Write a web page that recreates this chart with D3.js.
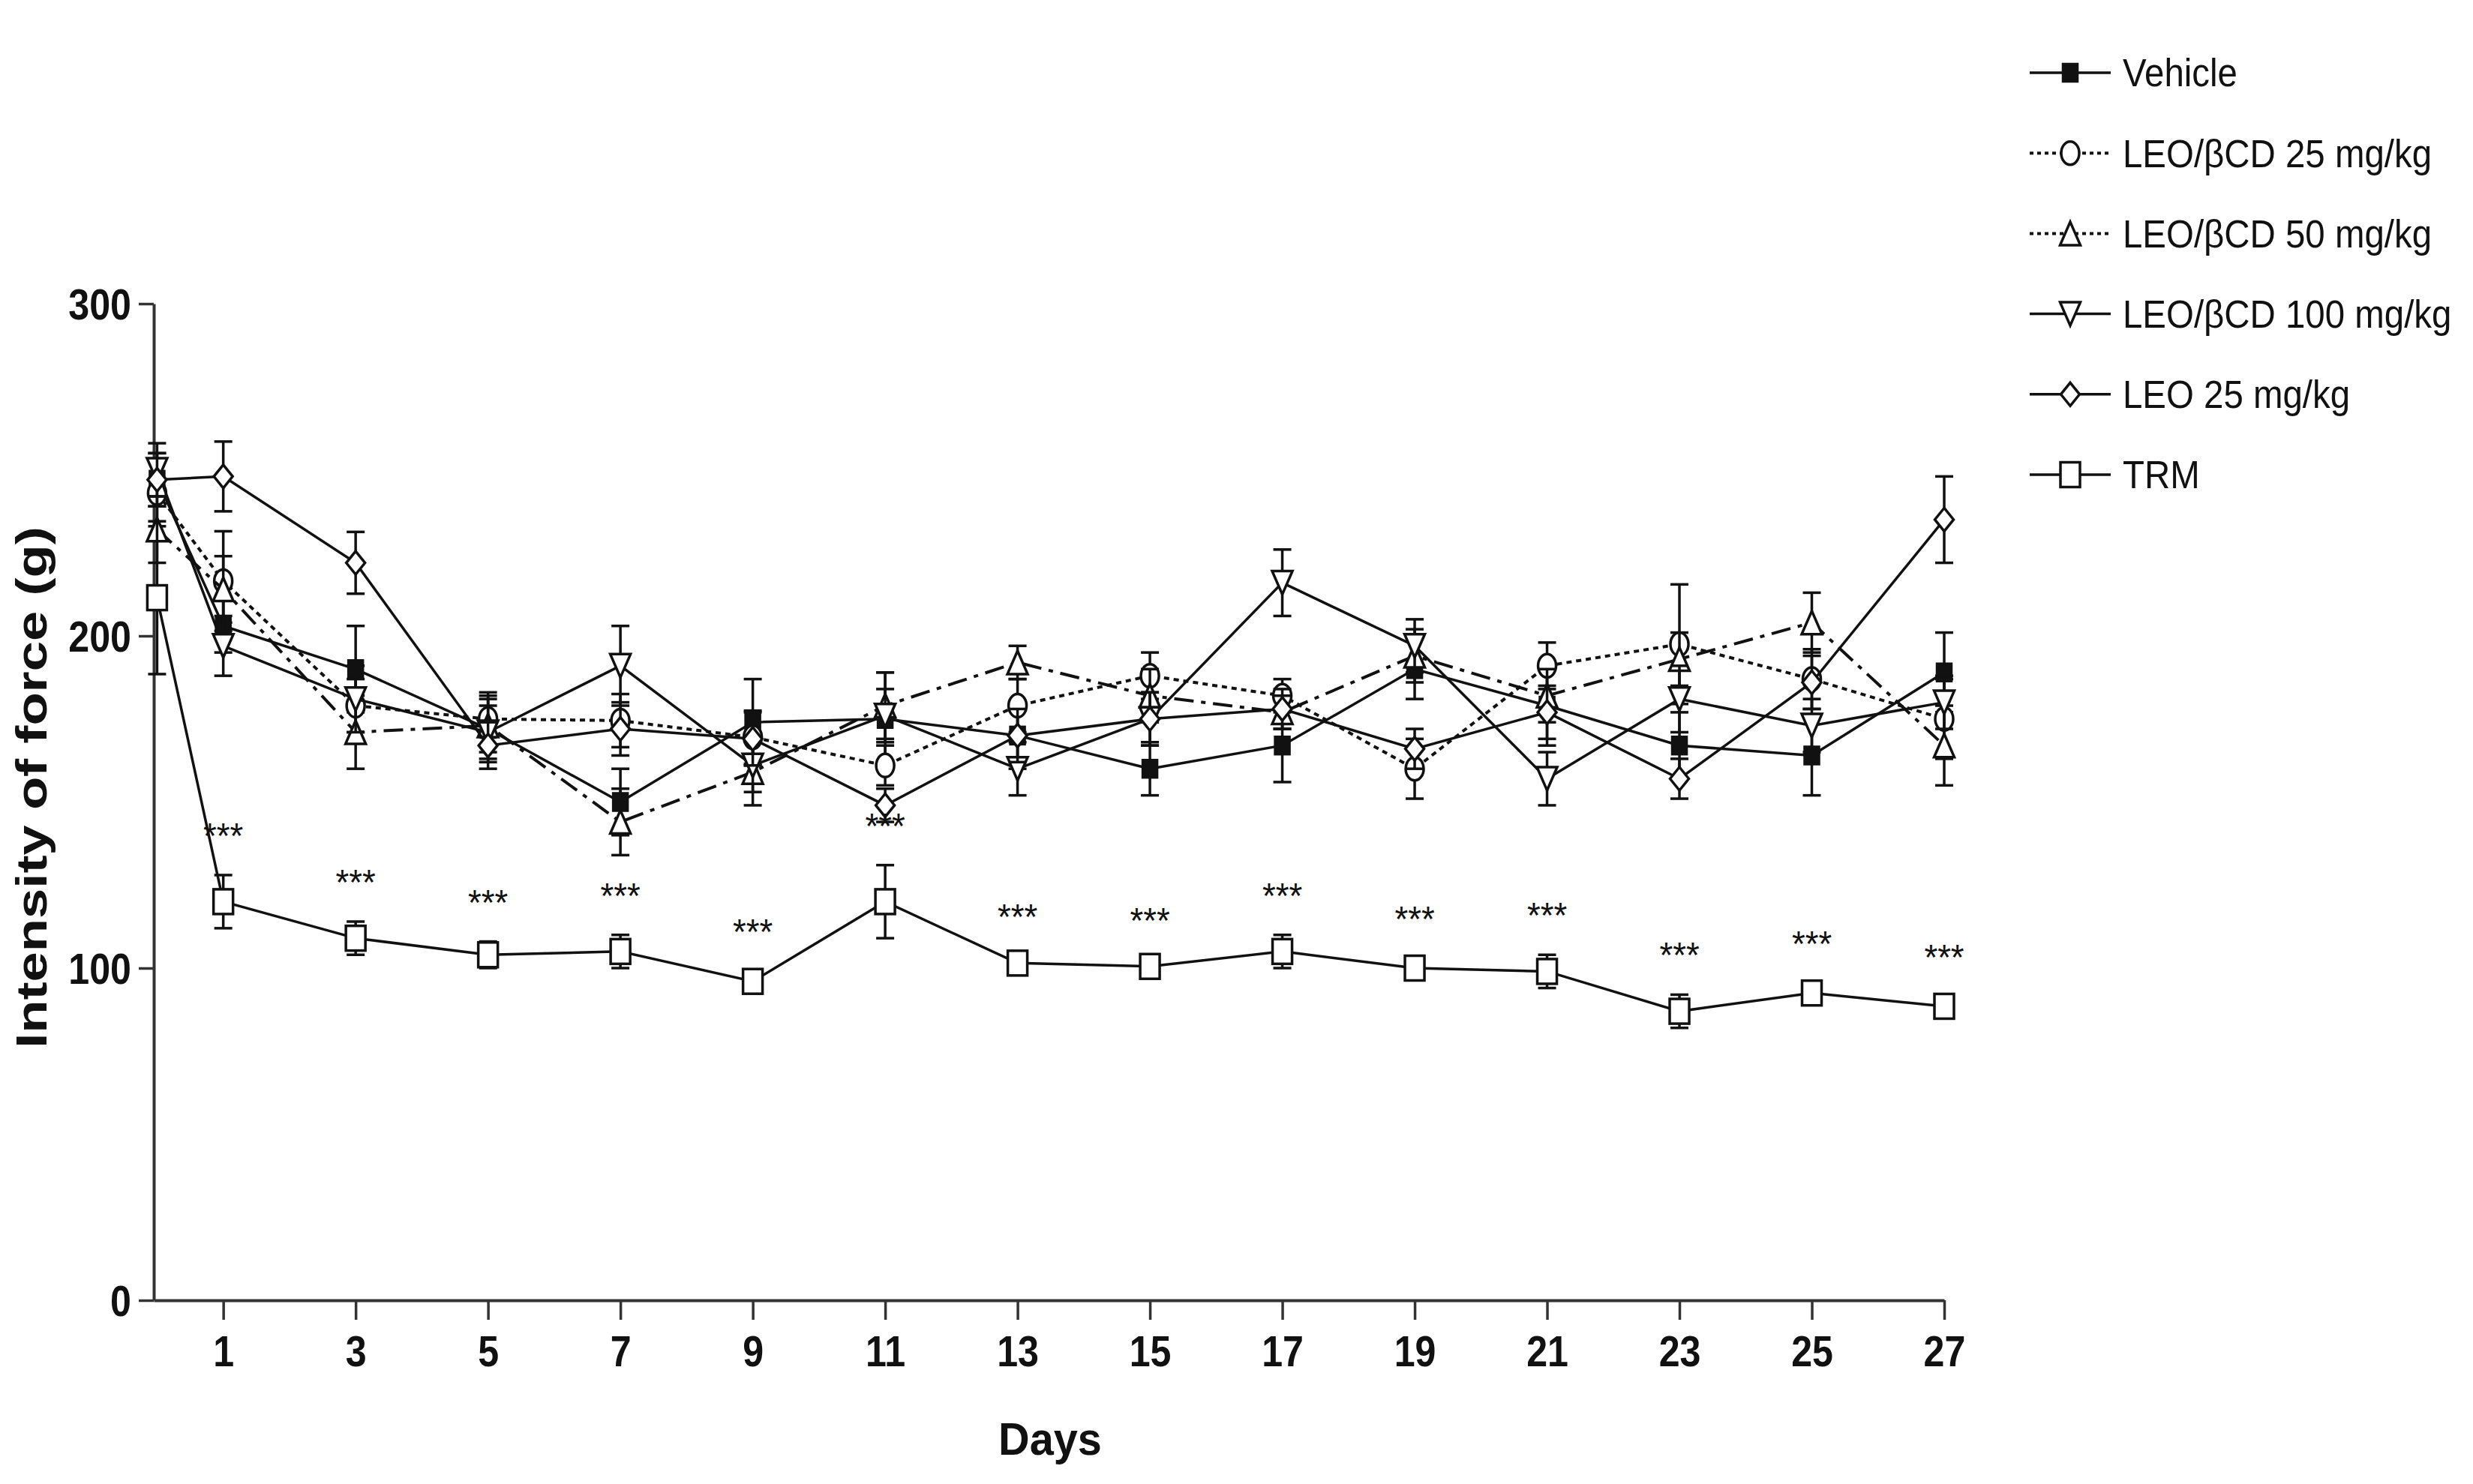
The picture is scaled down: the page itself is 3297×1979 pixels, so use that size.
<!DOCTYPE html>
<html>
<head>
<meta charset="utf-8">
<script src="https://cdn.jsdelivr.net/npm/d3@7"></script>
<style>
  body { margin: 0; background: #ffffff; }
  text { font-family: "Liberation Sans", Arial, sans-serif; fill: #111; }
</style>
</head>
<body>
<div class="graph"></div>
<script>

	var days = [0, 1, 3, 5, 7, 9, 11, 13, 15, 17, 19, 21, 23, 25, 27];
	var xTicks = [1, 3, 5, 7, 9, 11, 13, 15, 17, 19, 21, 23, 25, 27];
	var yTicks = [0, 100, 200, 300];
	var seriesNames = ["Vehicle", "LEO/βCD 25 mg/kg", "LEO/βCD 50 mg/kg", "LEO/βCD 100 mg/kg", "LEO 25 mg/kg", "TRM"];

	// mean and SEM for each group (g)
	var vehicle     = [247, 203, 190, 172, 150, 174, 175, 170, 160, 167, 190, 179, 167, 164, 189];
	var vehicleSem  = [8, 8, 13, 10, 10, 13, 14, 10, 8, 11, 9, 12, 10, 12, 12];
	var leoCd25     = [243, 216.5, 179, 175, 174.5, 169.5, 161, 179, 188, 182, 160, 191, 197.5, 187, 175];
	var leoCd25Sem  = [10, 15, 8, 8, 8, 8, 6, 8, 7, 5, 9, 7, 18, 9, 12];
	var leoCd50     = [232, 214, 171, 173, 144, 159, 179, 192, 182, 177, 194, 182, 193, 204, 167];
	var leoCd50Sem  = [10, 10, 11, 8, 10, 10, 10, 5, 8, 5, 8, 8, 8, 9, 12];
	var leoCd100    = [250, 197, 181, 171, 191, 161, 176, 160, 175, 216, 197, 157, 181, 173, 180];
	var leoCd100Sem = [8, 9, 10, 8, 12, 8, 8, 8, 8, 10, 8, 8, 10, 8, 8];
	var leo25       = [247, 248, 222, 167, 172, 169, 149, 170, 175, 178, 166, 177, 157, 186, 235];
	var leo25Sem    = [8, 10.5, 9.3, 7, 8, 8, 5, 8, 8, 6, 6, 8, 6, 8, 13];
	var trm         = [211.5, 120, 109, 104, 105, 96, 120, 101.5, 100.5, 105, 100, 99, 87, 92.5, 88.5];
	var trmSem      = [23, 8, 5, 4, 5, 3, 11, 2, 2, 5, 3, 5, 5, 3, 3];

	// days marked *** (TRM vs vehicle)
	var starDays = [1, 3, 5, 7, 9, 11, 13, 15, 17, 19, 21, 23, 25, 27];

	var seriesValues = [vehicle, leoCd25, leoCd50, leoCd100, leo25, trm];
	var seriesSem = [vehicleSem, leoCd25Sem, leoCd50Sem, leoCd100Sem, leo25Sem, trmSem];

	// drawing styles, one per group
	var seriesStyle = [
		{sym: "fsquare", dash: null,          w: 19, h: 23},
		{sym: "circle",  dash: "7,6",         w: 24, h: 31},
		{sym: "tri",     dash: "26,10,6,10",  w: 27, h: 31},
		{sym: "nabla",   dash: null,          w: 27, h: 31},
		{sym: "diamond", dash: null,          w: 25, h: 31},
		{sym: "square",  dash: null,          w: 26, h: 33}
	];

// creating the svg
	var svg = d3.select(".graph")
	   .append("svg")
	   .attr("width", 3297)
	   .attr("height", 1979)
	   .attr("viewBox", "0 0 3297 1979");

	var x = d3.scaleLinear().domain([-0.05, 27]).range([205, 2592]);
	var y = d3.scaleLinear().domain([0, 300]).range([1734, 405]);

	var ink = "#111";

// axes
	var yAxis = svg.append("g")
		.attr("transform", "translate(" + x(-0.05) + ",0)")
		.call(d3.axisLeft(y).tickValues(yTicks).tickSize(20).tickSizeOuter(0));

	var xAxis = svg.append("g")
		.attr("transform", "translate(0," + y(0) + ")")
		.call(d3.axisBottom(x).tickValues(xTicks).tickSize(26).tickSizeOuter(0));

	[yAxis, xAxis].forEach(function(ax){
		ax.select(".domain").attr("stroke", "#333").attr("stroke-width", 4);
		ax.selectAll(".tick line").attr("stroke", "#333").attr("stroke-width", 3.5);
		ax.selectAll(".tick text")
			.attr("font-size", "57px")
			.attr("font-weight", "bold")
			.attr("fill", ink)
			.style("font-family", "'Liberation Sans', Arial, sans-serif");
	});

	yAxis.selectAll(".tick text")
		.attr("x", 0)
		.attr("dy", "0.36em")
		.attr("text-anchor", "end")
		.attr("transform", "translate(-30,0) scale(0.88,1)");

	xAxis.selectAll(".tick text")
		.attr("y", 0)
		.attr("dy", 0)
		.attr("transform", "translate(0,88) scale(0.88,1)");

// axis titles
	svg.append("text")
		.attr("transform", "translate(1400,1940) scale(0.93,1)")
		.attr("text-anchor", "middle")
		.attr("font-size", "62px")
		.attr("font-weight", "bold")
		.text("Days");

	svg.append("text")
		.attr("transform", "translate(42,1050) rotate(-90) scale(1.27,1)")
		.attr("text-anchor", "middle")
		.attr("dy", "0.35em")
		.attr("font-size", "57px")
		.attr("font-weight", "bold")
		.text("Intensity of force (g)");

// marker shapes centred on 0,0
function drawMarker(g, st){
	var w = st.w, h = st.h;
	if (st.sym == "fsquare" || st.sym == "square") {
		g.append("rect")
			.attr("x", -w/2).attr("y", -h/2)
			.attr("width", w).attr("height", h)
			.attr("fill", st.sym == "fsquare" ? ink : "#fff")
			.attr("stroke", ink).attr("stroke-width", 3.5);
	} else if (st.sym == "circle") {
		g.append("ellipse")
			.attr("rx", w/2).attr("ry", h/2)
			.attr("fill", "#fff")
			.attr("stroke", ink).attr("stroke-width", 3.5);
	} else {
		var p;
		if (st.sym == "tri") p = [[0,-h/2],[w/2,h/2],[-w/2,h/2]];
		else if (st.sym == "nabla") p = [[0,h/2],[w/2,-h/2],[-w/2,-h/2]];
		else p = [[0,-h/2],[w/2,0],[0,h/2],[-w/2,0]];
		g.append("path")
			.attr("d", "M" + p.join("L") + "Z")
			.attr("fill", "#fff")
			.attr("stroke", ink).attr("stroke-width", 3.5)
			.attr("stroke-linejoin", "miter");
	}
}

	var line = d3.line()
		.x(function(d, i){ return x(days[i]); })
		.y(function(d){ return y(d); });

// drawing the groups: error bars, line, then markers
	seriesValues.forEach(function(vals, s){
		var st = seriesStyle[s];
		var sem = seriesSem[s];
		var grp = svg.append("g");

		var bars = grp.selectAll("g.err")
			.data(vals)
			.enter()
			.append("g")
			.attr("class", "err")
			.attr("stroke", ink)
			.attr("stroke-width", 3.5);

		bars.append("line")
			.attr("x1", function(d, i){ return x(days[i]); })
			.attr("x2", function(d, i){ return x(days[i]); })
			.attr("y1", function(d, i){ return y(d - sem[i]); })
			.attr("y2", function(d, i){ return y(d + sem[i]); });

		[-1, 1].forEach(function(sign){
			bars.append("line")
				.attr("x1", function(d, i){ return x(days[i]) - 12; })
				.attr("x2", function(d, i){ return x(days[i]) + 12; })
				.attr("y1", function(d, i){ return y(d + sign * sem[i]); })
				.attr("y2", function(d, i){ return y(d + sign * sem[i]); });
		});

		grp.append("path")
			.attr("d", line(vals))
			.attr("fill", "none")
			.attr("stroke", ink)
			.attr("stroke-width", st.dash ? 4 : 3.5)
			.attr("stroke-dasharray", st.dash);

		grp.selectAll("g.mk")
			.data(vals)
			.enter()
			.append("g")
			.attr("class", "mk")
			.attr("transform", function(d, i){ return "translate(" + x(days[i]) + "," + y(d) + ")"; })
			.each(function(){ drawMarker(d3.select(this), st); });
	});

// significance stars above TRM
	svg.selectAll("text.star")
		.data(starDays)
		.enter()
		.append("text")
		.attr("class", "star")
		.attr("text-anchor", "middle")
		.attr("font-size", "48px")
		.attr("transform", function(d){
			var i = days.indexOf(d);
			return "translate(" + x(d) + "," + (y(trm[i] + trmSem[i]) - 36) + ") scale(0.95,1)";
		})
		.text("***");

// legend
	var legY = d3.scalePoint().domain(seriesNames).range([97, 633]);

	var leg = svg.selectAll("g.leg")
		.data(seriesNames)
		.enter()
		.append("g")
		.attr("class", "leg")
		.attr("transform", function(d){ return "translate(2760," + legY(d) + ")"; });

	leg.append("line")
		.attr("x1", -54).attr("x2", 54)
		.attr("stroke", ink)
		.attr("stroke-width", function(d, i){ return seriesStyle[i].dash ? 4 : 3.5; })
		.attr("stroke-dasharray", function(d, i){ return seriesStyle[i].dash ? "5,5" : null; });

	leg.each(function(d, i){ drawMarker(d3.select(this), seriesStyle[i]); });

	leg.append("text")
		.attr("transform", "translate(70,0) scale(0.93,1)")
		.attr("dy", "0.36em")
		.attr("font-size", "51px")
		.text(function(d){ return d; });

</script>
</body>
</html>
